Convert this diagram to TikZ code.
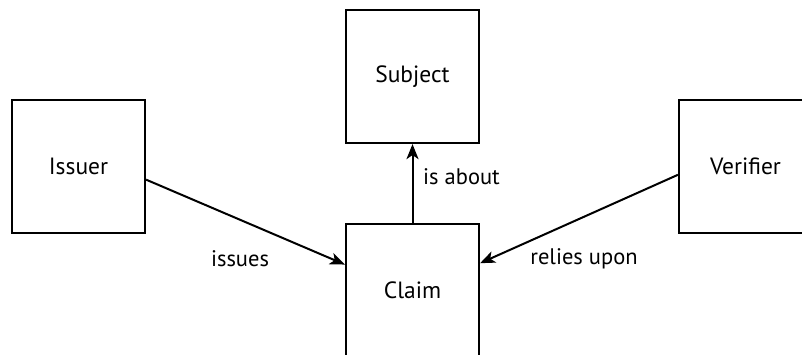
\documentclass[tikz,border=0pt]{standalone}
\usepackage{fontspec}
\setmainfont{PT Sans}
\usetikzlibrary{arrows.meta,positioning}
\tikzset{
    party/.style={draw, line width=2.2pt, minimum width=133pt, minimum height=133pt,
        inner sep=0pt, font=\fontsize{23.5}{27}\selectfont},
    link/.style={line width=2pt, -{Stealth[length=15pt, width=12pt, inset=4pt]}},
    linklabel/.style={font=\fontsize{22.5}{26}\selectfont, inner sep=0pt}
}
\begin{document}
\begin{tikzpicture}[x=1pt, y=-1pt]
            % Page frame
            \useasboundingbox (0,0) rectangle (802,354);
            \clip (0,0) rectangle (802,354);

            % Parties
            \node[party] (issuer) at (78.5,166.5) {Issuer};
            \node[party] (subject) at (412.5,76.5) {Subject};
            \node[party] (claim) at (412.5,290.5) {Claim};
            \node[party] (verifier) at (745.5,166.5) {Verifier};

            % Relations
            \draw[link] (issuer.-11.5) -- (claim.159);
            \draw[link] (verifier.187) -- (claim.22);
            \draw[link] (claim.north) -- (subject.south);

            % Relation labels
            \node[linklabel] (issuesLabel) at (240,259) {issues};
            \node[linklabel, anchor=west] (aboutLabel) at (423,177) {is about};
            \node[linklabel] (reliesLabel) at (584,259) {relies upon};
        \end{tikzpicture}
\end{document}
